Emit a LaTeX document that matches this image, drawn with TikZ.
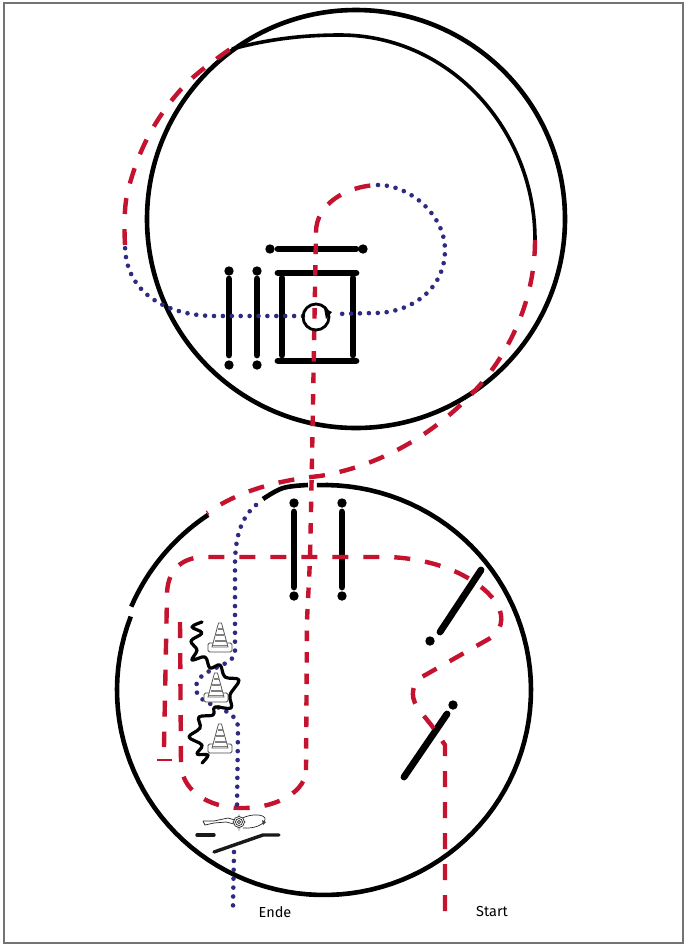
\documentclass[tikz,border=0pt]{standalone}
\usepackage{fontspec}
\setmainfont{Fira Sans}
\usetikzlibrary{arrows.meta}
\definecolor{rd}{HTML}{C4122F}
\definecolor{bl}{HTML}{2E2A82}
\tikzset{
  redline/.style={draw=rd,line width=4.4pt,dash pattern=on 16pt off 15pt},
  redshort/.style={draw=rd,line width=4.4pt,dash pattern=on 10.5pt off 11pt},
  dotline/.style={draw=bl,line width=4.6pt,line cap=round,dash pattern=on 0pt off 8.9pt},
  bar/.style={draw=black,line width=6.8pt,line cap=round},
  ring/.style={draw=black,line width=4.6pt},
  thinring/.style={draw=black,line width=3.6pt},
  gate/.style={fill=black,draw=none},
  lbl/.style={font=\fontsize{14.5pt}{16pt}\selectfont,inner sep=0pt},
  conebase/.style={draw=black!70,line width=.8pt,fill=white,rounded corners=1.5pt},
  conebody/.style={draw=black!65,line width=.8pt,fill=white},
  stripe/.style={draw=black!50,line width=1.5pt},
  moto/.style={draw=black!85,line width=.7pt}
}
\newcommand{\conemark}[2]{%
  \begin{scope}[shift={(#1,#2)}]
    \path[conebase] (-12,0) rectangle (12,9);
    \path[conebody] (-1.5,-20) -- (1.5,-20) -- (8,4) -- (-8,4) -- cycle;
    \draw[stripe] (-2.5,-14) -- (2.5,-14);
    \draw[stripe] (-4,-8) -- (4,-8);
    \draw[stripe] (-5.5,-2) -- (5.5,-2);
    \draw[stripe] (-7,2.5) -- (7,2.5);
  \end{scope}}
\begin{document}
\begin{tikzpicture}[x=1pt,y=-1pt]
\useasboundingbox (0,0) rectangle (686,946);
\fill[white] (0,0) rectangle (686,946);
\draw[draw=black!55,line width=2.4pt] (4,3) rectangle (683,943);

% top circle and inner arc
\draw[ring] (356,219) circle [radius=209pt];
\draw[thinring] (232,49) .. controls (265,40) and (300,35) .. (340,35)
  .. controls (450,35) and (535,130) .. (535,240);

% bottom circle, broken in places
\draw[ring] plot[domain=92:-201,samples=100] ({324+207*cos(\x)},{690-205*sin(\x)});
\draw[ring] plot[domain=156.6:123.5,samples=20] ({324+210*cos(\x)},{690-210*sin(\x)});
\draw[ring] plot[smooth,tension=.6] coordinates {(263,499) (283,488) (308,485)};

% gates, top
\draw[bar] (278,249) -- (356,249);
\fill[gate] (270,249) circle [radius=4.7pt] (363,249) circle [radius=4.7pt];
\draw[bar] (278,273) -- (356,273);
\draw[bar] (278,361) -- (356,361);
\draw[bar] (282,278) -- (282,355);
\draw[bar] (353,278) -- (353,355);
\draw[bar] (229,279) -- (229,355);
\draw[bar] (257,279) -- (257,355);
\fill[gate] (229,271) circle [radius=4.7pt] (229,365) circle [radius=4.7pt]
            (257,271) circle [radius=4.7pt] (257,365) circle [radius=4.7pt];

% gates, bottom
\draw[bar] (294,512) -- (294,587);
\draw[bar] (342,512) -- (342,587);
\fill[gate] (294,503) circle [radius=4.7pt] (294,596) circle [radius=4.7pt]
            (342,503) circle [radius=4.7pt] (342,596) circle [radius=4.7pt];
\draw[bar] (481,570) -- (440,632);
\fill[gate] (430,641) circle [radius=4.7pt];
\draw[bar] (447,714) -- (404,777);
\fill[gate] (453,705) circle [radius=4.7pt];

% red route
\draw[redline] (445,911) -- (445,745) -- (432,726) -- (420,711)
  .. controls (411,700) and (410,688) .. (420,678)
  -- (487,640) .. controls (502,632) and (505,618) .. (497,604)
  .. controls (485,585) and (450,560) .. (390,557)
  -- (205,557) .. controls (180,557) and (167,572) .. (167,595) -- (164,747);
\draw[draw=rd,line width=2pt] (157,760) -- (172,760);
\draw[redline] (180,622) -- (181,765)
  .. controls (183,795) and (215,809) .. (245,808)
  .. controls (280,807) and (306,790) .. (306,770);
\draw[redshort] (306,770) -- (307,620) -- (310,560) -- (312,460) -- (316,232);
\draw[redline] (316,232) .. controls (316,205) and (345,186) .. (378,185);
\draw[redline] plot[smooth,tension=.6] coordinates {(125,245) (127,195) (149,135) (187,83) (239,43)};
\draw[redline] (535,240) .. controls (535,300) and (510,350) .. (480,385)
  .. controls (440,430) and (385,465) .. (320,476)
  .. controls (280,480) and (240,490) .. (207,513);

% blue route, top
\draw[dotline] (378,185) .. controls (410,185) and (445,215) .. (445,250)
  .. controls (445,290) and (410,313) .. (375,313) -- (335,314);
\draw[dotline] (303,316) -- (215,316) .. controls (170,316) and (125,295) .. (125,245);

% blue route, bottom
\draw[dotline] (256,505) .. controls (240,518) and (235,540) .. (235,565) -- (235,653)
  .. controls (232,668) and (196,668) .. (196,688)
  .. controls (196,708) and (238,705) .. (238,728) -- (237,808);
\draw[dotline] (234,852) -- (233,906);

% turn circle
\draw[draw=black,line width=2.8pt] (316,317) circle [radius=13pt];
\fill[black] (324,308) -- (332,312) -- (326,319) -- cycle;

% cones
\conemark{220}{643}
\conemark{216}{693}
\conemark{220}{744}

% wavy line
\draw[draw=black,line width=3.2pt,line cap=round,line join=round] plot[smooth,tension=.6] coordinates {
 (202,622) (192,627) (202,633) (191,641) (197,650) (192,660) (205,657) (210,668)
 (220,665) (225,677) (239,680) (230,695) (231,708) (215,707) (213,715) (199,717)
 (200,728) (189,737) (202,745) (197,754) (208,755) (202,763)};

% motorcycle
\draw[moto] (238,821) .. controls (246,814) and (262,813) .. (265,818)
  .. controls (266,824) and (255,829) .. (243,828);
\draw[moto] (238,821) -- (228,818) -- (214,821) -- (203,821);
\draw[moto] (238,825) -- (226,822) -- (214,823) -- (205,825) -- (203,821);
\fill[black!75] (262,820) -- (266,822) -- (263,825) -- cycle;
\fill[black!25] (239,814) -- (242,819) -- (246,822) -- (242,825) -- (239,831) -- (236,825) -- (232,822) -- (236,819) -- cycle;
\draw[moto,fill=white] (239,822) circle [radius=5.5pt];
\draw[moto] (239,822) circle [radius=3.5pt];
\draw[moto] (239,822) circle [radius=1.6pt];

% kerbs
\draw[draw=black!90,line width=3.4pt,line cap=round] (197,835) -- (214,835);
\draw[draw=black!90,line width=3.4pt,line cap=round,line join=round] (214,852) -- (263,835) -- (279,835);

% labels
\node[lbl] (ende) at (275,912) {Ende};
\node[lbl] (start) at (492,911) {Start};
\end{tikzpicture}
\end{document}
